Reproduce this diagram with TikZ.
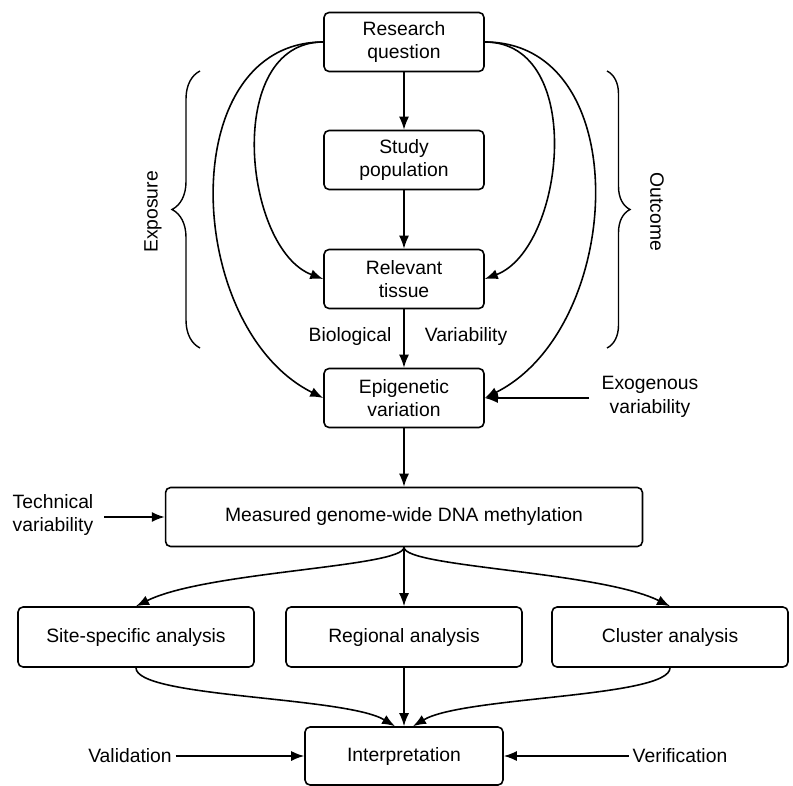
\documentclass[tikz,border=0pt]{standalone}
\usepackage{fontspec}
\setmainfont{Liberation Sans}
\usetikzlibrary{positioning,arrows.meta,decorations.pathreplacing}

\begin{document}
\begin{tikzpicture}[
    x=0.02cm, y=-0.02cm,
    font=\fontsize{11}{13.5}\selectfont,
    box/.style={
        rectangle, rounded corners=1mm,
        draw=black, line width=0.9pt,
        align=center, inner sep=2pt,
        minimum width=3.2cm, minimum height=1.18cm
    },
    wide/.style={box, minimum width=#1},
    lbl/.style={align=center, inner sep=2pt},
    arrow/.style={-{Latex[length=2.6mm,width=2mm]}, line width=0.9pt},
    brc/.style={decorate, line width=0.8pt}
]
\useasboundingbox (0,0) rectangle (793,786);

\node[box] (rq) at (404,42) {Research\\question};
\node[box] (pop) at (404,160) {Study\\population};
\node[box] (tis) at (404,279) {Relevant\\tissue};
\node[box] (epi) at (404,398) {Epigenetic\\variation};
\node[wide=9.54cm] (meas) at (404,517) {Measured genome-wide DNA methylation};
\node[wide=4.72cm, minimum height=1.2cm] (site) at (136,637) {Site-specific analysis};
\node[wide=4.72cm, minimum height=1.2cm] (reg) at (404,637) {Regional analysis};
\node[wide=4.72cm, minimum height=1.2cm] (clus) at (670,637) {Cluster analysis};
\node[wide=3.96cm, minimum height=1.16cm] (interp) at (404,756) {Interpretation};

\node[lbl] (bio) at (350,337) {Biological};
\node[lbl] (var) at (466,337) {Variability};
\node[lbl, inner xsep=7pt] (exo) at (650,397) {Exogenous\\variability};
\node[lbl, inner xsep=6pt] (tech) at (53,515) {Technical\\variability};
\node[lbl] (valid) at (130,756) {Validation};
\node[lbl] (verif) at (680,756) {Verification};

\node[lbl, rotate=90] (expo) at (153,212) {Exposure};
\node[lbl, rotate=-90] (outc) at (657,212) {Outcome};

% braces
\draw[brc, decoration={brace,amplitude=0.56cm}] (200,348) -- (200,71);
\draw[brc, decoration={brace,amplitude=0.46cm}] (607,71) -- (607,348);

\draw[arrow] (rq) -- (pop);
\draw[arrow] (pop) -- (tis);
\draw[arrow] (tis) -- (epi);
\draw[arrow] (epi) -- (meas);

\draw[arrow] (rq.west) .. controls +(-100,0) and +(-80,-30) .. (tis.west);
\draw[arrow] (rq.west) .. controls +(-150,0) and +(-140,-70) .. (epi.west);
\draw[arrow] (rq.east) .. controls +(102,0) and +(80,-30) .. (tis.east);
\draw[arrow] (rq.east) .. controls +(152,0) and +(140,-70) .. (epi.east);

\draw[arrow] (exo.west |- epi.east) -- (epi.east);
\draw[arrow] (tech.east |- meas.west) -- (meas.west);

\draw[arrow] (meas.south) .. controls +(0,20) and +(70,-35) .. (site.north);
\draw[arrow] (meas.south) -- (reg.north);
\draw[arrow] (meas.south) .. controls +(0,20) and +(-70,-35) .. (clus.north);

\draw[arrow] (site.south) .. controls +(0,30) and +(-50,-30) .. ([xshift=-0.18cm]interp.north);
\draw[arrow] (reg.south) -- (interp.north);
\draw[arrow] (clus.south) .. controls +(0,30) and +(50,-30) .. ([xshift=0.18cm]interp.north);

\draw[arrow] (valid.east) -- (interp.west);
\draw[arrow] (verif.west) -- (interp.east);

\end{tikzpicture}
\end{document}
